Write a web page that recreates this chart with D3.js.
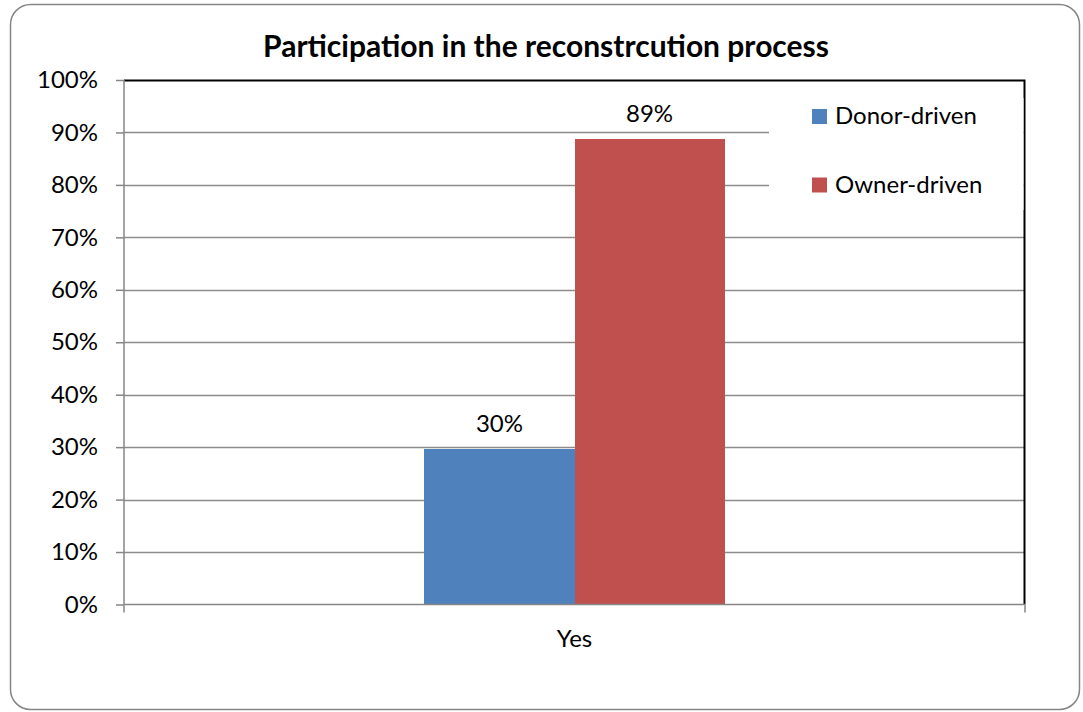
<!DOCTYPE html>
<html>
<head>
<meta charset="utf-8">
<script src="https://cdn.jsdelivr.net/npm/d3@7"></script>
<style>
  html, body { margin: 0; padding: 0; background: #fff; }
  svg { display: block; font-family: Lato, "Open Sans", sans-serif; }
</style>
</head>
<body>
<svg id="chart" width="1083" height="712"></svg>
<script>
// Chart content
const chartTitle = "Participation in the reconstrcution process";
const categories = ["Yes"];
const seriesNames = ["Donor-driven", "Owner-driven"];
const donorValues = [0.296];
const ownerValues = [0.888];
const seriesColors = ["#4f81bd", "#c0504d"];
const yTickValues = [0, 0.1, 0.2, 0.3, 0.4, 0.5, 0.6, 0.7, 0.8, 0.9, 1.0];

const seriesValues = [donorValues, ownerValues];
const labelFont = 24;
const fontStack = "Lato, 'Open Sans', sans-serif";

const svg = d3.select("#chart");

// Outer chart frame
svg.append("rect")
  .attr("x", 10.5).attr("y", 4.5)
  .attr("width", 1069).attr("height", 705)
  .attr("rx", 20).attr("ry", 20)
  .attr("fill", "#fff")
  .attr("stroke", "#868686")
  .attr("stroke-width", 1.5);

// Plot area
const plot = { left: 124, right: 1025, top: 80, bottom: 604.5 };

const y = d3.scaleLinear().domain([0, 1]).range([plot.bottom, plot.top]);
const x0 = d3.scaleBand().domain(categories).range([plot.left, plot.right]).paddingInner(0).paddingOuter(0);
// the bar pair occupies the middle third of the category band
const x1 = d3.scaleBand().domain(seriesNames)
  .range([x0.bandwidth() / 3, x0.bandwidth() * 2 / 3]);

// Gridlines
svg.append("g")
  .selectAll("line")
  .data(yTickValues.filter(d => d > 0 && d < 1))
  .join("line")
  .attr("x1", plot.left).attr("x2", plot.right)
  .attr("y1", d => Math.round(y(d)) + 0.5).attr("y2", d => Math.round(y(d)) + 0.5)
  .attr("stroke", "#8c8c8c")
  .attr("stroke-width", 1.5);

// Bars
const groups = svg.append("g")
  .selectAll("g")
  .data(categories)
  .join("g")
  .attr("transform", d => `translate(${x0(d)},0)`);

groups.selectAll("rect")
  .data((d, i) => seriesNames.map((s, k) => ({ s, k, v: seriesValues[k][i] })))
  .join("rect")
  .attr("x", d => x1(d.s))
  .attr("width", x1.bandwidth())
  .attr("y", d => y(d.v))
  .attr("height", d => plot.bottom - y(d.v))
  .attr("shape-rendering", "crispEdges")
  .attr("fill", (d) => seriesColors[d.k]);

// Data labels
groups.selectAll("text")
  .data((d, i) => seriesNames.map((s, k) => ({ s, k, v: seriesValues[k][i] })))
  .join("text")
  .attr("x", d => x1(d.s) + x1.bandwidth() / 2)
  .attr("y", d => y(d.v) - 17)
  .attr("text-anchor", "middle")
  .attr("font-size", labelFont)
  .attr("fill", "#000")
  .text(d => d3.format(".0%")(d.v));

// Plot-area border on top and right
svg.append("path")
  .attr("d", `M${plot.left},${plot.top + 0.5}H${plot.right - 0.5}V${plot.bottom}`)
  .attr("fill", "none")
  .attr("stroke", "#000")
  .attr("stroke-width", 2);

// Legend (white box over gridlines)
const legend = svg.append("g");
legend.append("rect")
  .attr("x", 769).attr("y", 98)
  .attr("width", plot.right - 1.5 - 769).attr("height", 112)
  .attr("fill", "#fff");
const legendItems = legend.selectAll("g")
  .data(seriesNames)
  .join("g")
  .attr("transform", (d, i) => `translate(812,${124 + i * 68.5})`);
legendItems.append("rect")
  .attr("x", 0).attr("y", -15)
  .attr("width", 15).attr("height", 15)
  .attr("fill", (d, i) => seriesColors[i]);
legendItems.append("text")
  .attr("x", 23).attr("y", 0)
  .attr("font-size", labelFont)
  .attr("fill", "#000")
  .text(d => d);

// Y axis
const yAxis = d3.axisLeft(y)
  .tickValues(yTickValues)
  .tickFormat(d3.format(".0%"))
  .tickSize(8)
  .tickPadding(18);
const yg = svg.append("g")
  .attr("transform", `translate(${plot.left},0)`)
  .call(yAxis);
yg.select(".domain").attr("stroke", "#868686").attr("stroke-width", 1.5)
  .attr("d", `M0,${plot.top}V${plot.bottom}`);
yg.selectAll(".tick line").attr("stroke", "#868686").attr("stroke-width", 1.5);
yg.selectAll(".tick text").attr("font-size", labelFont).attr("fill", "#000")
  .attr("font-family", fontStack);

// X axis
const xAxis = d3.axisBottom(x0).tickSize(0).tickPadding(25);
const xg = svg.append("g")
  .attr("transform", `translate(0,${plot.bottom})`)
  .call(xAxis);
xg.select(".domain").attr("stroke", "#868686").attr("stroke-width", 1.5)
  .attr("d", `M${plot.left},0H${plot.right}`);
xg.selectAll(".tick text").attr("font-size", labelFont).attr("fill", "#000")
  .attr("font-family", fontStack);
// tick marks at both ends of the category axis
xg.selectAll("line.edge")
  .data([plot.left, plot.right])
  .join("line")
  .attr("class", "edge")
  .attr("x1", d => d).attr("x2", d => d)
  .attr("y1", 0).attr("y2", 8)
  .attr("stroke", "#868686").attr("stroke-width", 1.5);

// Title
svg.append("text")
  .attr("x", 546).attr("y", 57)
  .attr("text-anchor", "middle")
  .attr("font-size", 30)
  .attr("font-weight", "bold")
  .attr("fill", "#000")
  .text(chartTitle);
</script>
</body>
</html>
